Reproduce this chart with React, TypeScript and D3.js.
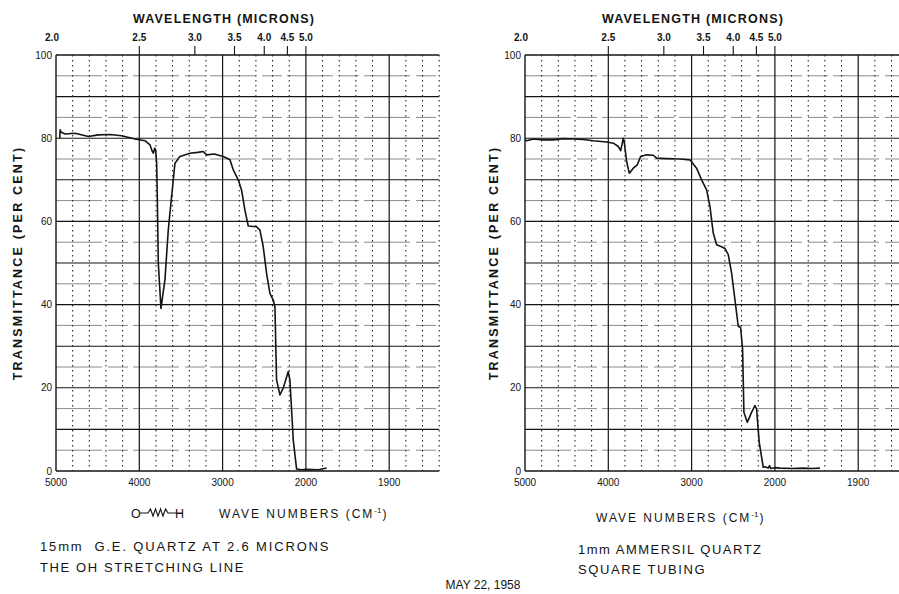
import * as d3 from "d3";
import { useEffect, useRef } from "react";

// spectra: wave number (cm-1) vs transmittance (%)
const leftWaveNumbers = [
    4955, 4950, 4940, 4892, 4772, 4612, 4492, 4350, 4212, 4052, 3932, 3872, 3844, 3832, 3815, 3804,
    3792, 3784, 3772, 3740, 3692, 3652, 3632, 3612, 3592, 3572, 3512, 3392, 3300, 3232, 3192, 3100,
    2992, 2912, 2872, 2812, 2772, 2732, 2692, 2592, 2552, 2512, 2472, 2432, 2392, 2372, 2352, 2312,
    2272, 2212, 2192, 2152, 2112, 2052, 2000, 1985, 1975
];
const leftTransmittance = [
    80.0, 82.0, 81.5, 81.0, 81.2, 80.4, 80.8, 80.9, 80.6, 79.8, 79.4, 78.4, 76.8, 76.4, 77.6, 77.2,
    74.0, 66.0, 50.0, 39.1, 46.0, 58.0, 62.0, 66.0, 70.0, 74.0, 75.6, 76.4, 76.6, 76.8, 76.0, 76.2,
    75.6, 74.8, 72.4, 70.0, 67.5, 62.7, 58.9, 58.7, 57.9, 53.9, 47.5, 42.7, 41.1, 39.5, 21.9, 18.3,
    19.9, 23.9, 21.9, 7.5, 0.5, 0.3, 0.4, 0.3, 0.7
];

const rightWaveNumbers = [
    5000, 4980, 4900, 4780, 4660, 4540, 4420, 4300, 4180, 4020, 3940, 3880, 3852, 3835, 3820, 3808,
    3780, 3748, 3700, 3652, 3612, 3540, 3460, 3420, 3300, 3140, 3020, 2940, 2880, 2820, 2780, 2740,
    2700, 2640, 2600, 2560, 2520, 2480, 2440, 2412, 2388, 2372, 2332, 2280, 2240, 2220, 2188, 2140,
    2120, 2080, 2064, 2050, 2000, 1994, 1980, 1966, 1955, 1946
];
const rightTransmittance = [
    79.6, 79.4, 79.8, 79.6, 79.6, 79.9, 79.8, 79.7, 79.4, 79.1, 78.8, 78.0, 77.0, 78.5, 80.0, 79.0,
    74.4, 71.6, 72.8, 73.6, 75.6, 76.0, 75.9, 75.2, 75.1, 75.0, 74.8, 72.8, 70.0, 67.6, 63.6, 57.2,
    54.4, 53.9, 53.5, 52.0, 47.6, 41.2, 34.8, 34.5, 29.3, 14.1, 11.7, 14.1, 15.7, 14.9, 6.9, 0.9,
    1.0, 0.7, 1.3, 0.6, 0.8, 0.7, 0.6, 0.7, 0.6, 0.7
];

const waveNumberTicks = [5000, 4000, 3000, 2000, 1900];
const micronTicks = [2.0, 2.5, 3.0, 3.5, 4.0, 4.5, 5.0];
const percentTicks = [0, 20, 40, 60, 80, 100];

const ink = "#141414";
const font = "'Liberation Sans', Arial, sans-serif";
const unit = 83.3;
const plotTop = 55;
const plotBottom = 471;

type Svg = d3.Selection<SVGSVGElement, unknown, null, undefined>;

const drawPanel = (svg: Svg, x0: number, titleX: number, waves: number[], values: number[]) => {
    const x = d3.scaleLinear()
        .domain([5000, 2000, 1840])
        .range([x0, x0 + 3 * unit, x0 + 4.6 * unit]);
    const y = d3.scaleLinear().domain([0, 100]).range([plotBottom, plotTop]);
    const g = svg.append("g");
    const right = x(1840);

    // minor horizontal lines every 5%
    g.append("g").selectAll("line")
        .data(d3.range(5, 100, 10))
        .join("line")
        .attr("x1", x0).attr("x2", right)
        .attr("y1", d => y(d)).attr("y2", d => y(d))
        .attr("stroke", "#8a8a8a").attr("stroke-width", 1)
        .attr("stroke-dasharray", "46 6 20 5");

    // dotted verticals every 200 / 20 cm-1
    const dotted = d3.range(4800, 2000, -200).filter(d => d % 1000 !== 0)
        .concat(d3.range(1980, 1840, -20).filter(d => d !== 1900))
        .concat([1840]);
    g.append("g").selectAll("line")
        .data(dotted)
        .join("line")
        .attr("x1", d => x(d)).attr("x2", d => x(d))
        .attr("y1", plotTop).attr("y2", plotBottom)
        .attr("stroke", ink).attr("stroke-width", 1)
        .attr("stroke-dasharray", "1.5 3.5");

    // major horizontal lines every 10%
    g.append("g").selectAll("line")
        .data(d3.range(0, 101, 10))
        .join("line")
        .attr("x1", x0).attr("x2", right)
        .attr("y1", d => y(d)).attr("y2", d => y(d))
        .attr("stroke", ink).attr("stroke-width", d => (d === 0 || d === 100 ? 1.4 : 1.1));

    // solid verticals at labelled wave numbers
    g.append("g").selectAll("line")
        .data(waveNumberTicks)
        .join("line")
        .attr("x1", d => x(d)).attr("x2", d => x(d))
        .attr("y1", plotTop).attr("y2", plotBottom)
        .attr("stroke", ink).attr("stroke-width", d => (d === 5000 ? 1.4 : 1.2));

    // wavelength ticks on top
    g.append("g").selectAll("line")
        .data(micronTicks.slice(1))
        .join("line")
        .attr("x1", d => x(1e4 / d)).attr("x2", d => x(1e4 / d))
        .attr("y1", plotTop - 9).attr("y2", plotTop)
        .attr("stroke", ink).attr("stroke-width", 1.1);

    g.append("g").selectAll("text")
        .data(micronTicks)
        .join("text")
        .attr("x", d => x(1e4 / d) - (d === 2 ? 4 : 0))
        .attr("y", 41)
        .attr("text-anchor", "middle")
        .attr("font-size", 10).attr("font-weight", "bold")
        .attr("fill", ink).attr("font-family", font)
        .text(d => d.toFixed(1));

    g.append("text")
        .attr("x", x0 + 168).attr("y", 23)
        .attr("text-anchor", "middle")
        .attr("font-size", 12.5).attr("font-weight", "bold")
        .attr("letter-spacing", 1.2)
        .attr("fill", ink).attr("font-family", font)
        .text("WAVELENGTH (MICRONS)");

    // y tick labels
    g.append("g").selectAll("text")
        .data(percentTicks)
        .join("text")
        .attr("x", x0 - 4)
        .attr("y", d => y(d))
        .attr("dy", "0.35em")
        .attr("text-anchor", "end")
        .attr("font-size", 10)
        .attr("fill", ink).attr("font-family", font)
        .text(d => d);

    g.append("text")
        .attr("transform", `translate(${titleX},${(plotTop + plotBottom) / 2}) rotate(-90)`)
        .attr("text-anchor", "middle")
        .attr("font-size", 12.5).attr("font-weight", "bold")
        .attr("letter-spacing", 2.2)
        .attr("fill", ink).attr("font-family", font)
        .text("TRANSMITTANCE (PER CENT)");

    // bottom wave number labels
    g.append("g").selectAll("text")
        .data(waveNumberTicks)
        .join("text")
        .attr("x", d => x(d))
        .attr("y", plotBottom + 15)
        .attr("text-anchor", "middle")
        .attr("font-size", 10)
        .attr("fill", ink).attr("font-family", font)
        .text(d => d);

    const line = d3.line<number>()
        .x((_, i) => x(waves[i]))
        .y(d => y(d))
        .curve(d3.curveLinear);

    g.append("path")
        .datum(values)
        .attr("d", line)
        .attr("fill", "none")
        .attr("stroke", ink)
        .attr("stroke-width", 1.6)
        .attr("stroke-linejoin", "round");
};

const addCaption = (svg: Svg, x: number, y: number, text: string, size = 13, spacing = 1.8, anchor = "start") =>
    svg.append("text")
        .attr("x", x).attr("y", y)
        .attr("text-anchor", anchor)
        .attr("font-size", size)
        .attr("letter-spacing", spacing)
        .attr("xml:space", "preserve")
        .style("white-space", "pre")
        .attr("fill", ink).attr("font-family", font)
        .text(text);

const addWaveNumbersLabel = (svg: Svg, x: number, y: number) => {
    const t = svg.append("text")
        .attr("x", x).attr("y", y)
        .attr("font-size", 12)
        .attr("letter-spacing", 2)
        .attr("fill", ink).attr("font-family", font);
    t.append("tspan").text("WAVE NUMBERS (CM");
    t.append("tspan").attr("dy", -5).attr("font-size", 8).attr("letter-spacing", 0).text("-1");
    t.append("tspan").attr("dy", 5).attr("dx", 1).text(")");
};

const App = () => {
    const ref = useRef<SVGSVGElement>(null);

    useEffect(() => {
        const svg = d3.select(ref.current as SVGSVGElement);
        svg.selectAll("*").remove();
        svg.append("rect").attr("width", 899).attr("height", 594).attr("fill", "white");

        drawPanel(svg, 56, 22, leftWaveNumbers, leftTransmittance);
        drawPanel(svg, 525, 498, rightWaveNumbers, rightTransmittance);

        // O-H spring symbol
        svg.append("text")
            .attr("x", 131).attr("y", 518)
            .attr("font-size", 12.5).attr("fill", ink).attr("font-family", font)
            .text("O");
        svg.append("path")
            .attr("d", "M140,513 L148,513 L150.5,509 L153,516 L155.5,509 L158,516 L160.5,509 L163,516 L165.5,509 L168,513 L182,513")
            .attr("fill", "none").attr("stroke", ink).attr("stroke-width", 1.1);
        svg.append("text")
            .attr("x", 175).attr("y", 518)
            .attr("font-size", 12.5).attr("fill", ink).attr("font-family", font)
            .text("H");

        addWaveNumbersLabel(svg, 219, 518);
        addWaveNumbersLabel(svg, 596, 522);

        addCaption(svg, 40, 551, "15mm  G.E. QUARTZ AT 2.6 MICRONS", 13, 1.85);
        addCaption(svg, 40, 572, "THE OH STRETCHING LINE", 13, 1.6);
        addCaption(svg, 578, 554, "1mm AMMERSIL QUARTZ", 13, 1.5);
        addCaption(svg, 578, 574, "SQUARE TUBING", 13, 1.6);
        addCaption(svg, 483, 589, "MAY 22, 1958", 12, 0, "middle");
    }, []);

    return <svg ref={ref} width={899} height={594}
        style={{ position: "absolute", left: 0, top: 0, display: "block" }} />;
};

export default App;
